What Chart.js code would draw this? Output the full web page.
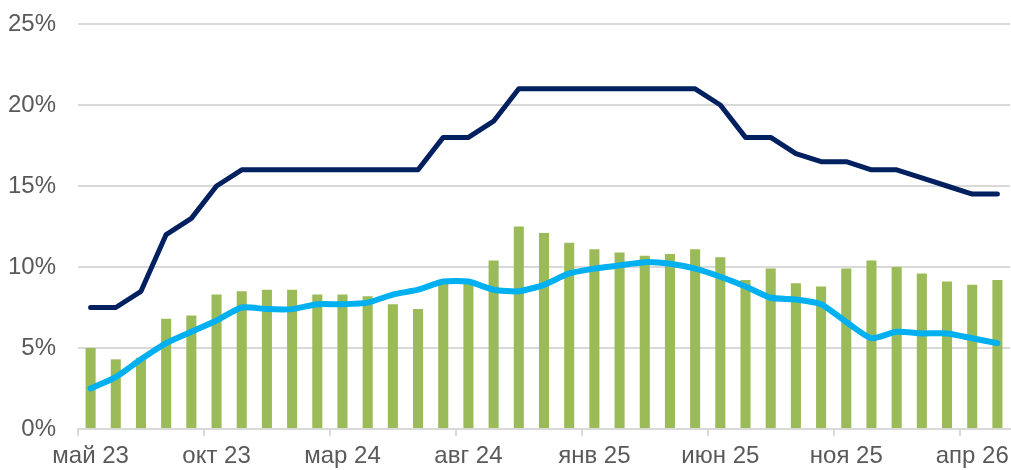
<!DOCTYPE html>
<html>
<head>
<meta charset="utf-8">
<script src="https://cdn.jsdelivr.net/npm/chart.js@4.4.1/dist/chart.umd.min.js"></script>
<style>
  html, body { margin: 0; padding: 0; background: #fff; }
  #wrap { width: 1011px; height: 470px; }
</style>
</head>
<body>
<div id="wrap"><canvas id="chart"></canvas></div>
<script>
// months май 23 .. май 26
const labels = ['май 23','июн 23','июл 23','авг 23','сен 23','окт 23','ноя 23','дек 23',
  'янв 24','фев 24','мар 24','апр 24','май 24','июн 24','июл 24','авг 24','сен 24','окт 24',
  'ноя 24','дек 24','янв 25','фев 25','мар 25','апр 25','май 25','июн 25','июл 25','авг 25',
  'сен 25','окт 25','ноя 25','дек 25','янв 26','фев 26','мар 26','апр 26','май 26'];

// green bars
const barValues = [5.0, 4.3, 4.4, 6.8, 7.0, 8.3, 8.5, 8.6, 8.6, 8.3, 8.3, 8.2, 7.7, 7.4, 9.0, 9.0,
  10.4, 12.5, 12.1, 11.5, 11.1, 10.9, 10.7, 10.8, 11.1, 10.6, 9.2, 9.9, 9.0, 8.8, 9.9, 10.4,
  10.0, 9.6, 9.1, 8.9, 9.2];

// dark blue line
const darkLine = [7.5, 7.5, 8.5, 12, 13, 15, 16, 16, 16, 16, 16, 16, 16, 16, 18, 18, 19, 21,
  21, 21, 21, 21, 21, 21, 21, 20, 18, 18, 17, 16.5, 16.5, 16, 16, 15.5, 15, 14.5, 14.5];

// light blue line
const lightLine = [2.5, 3.2, 4.3, 5.3, 6.0, 6.7, 7.5, 7.4, 7.4, 7.7, 7.7, 7.8, 8.3, 8.6, 9.1, 9.1,
  8.6, 8.5, 8.9, 9.6, 9.9, 10.1, 10.3, 10.2, 9.9, 9.4, 8.8, 8.1, 8.0, 7.7, 6.6, 5.6, 6.0, 5.9,
  5.9, 5.6, 5.3];

const yTicks = [0, 5, 10, 15, 20, 25];

const gridColor = '#d9d9d9';
const textColor = '#595959';

new Chart(document.getElementById('chart'), {
  type: 'bar',
  data: {
    labels: labels,
    datasets: [
      {
        type: 'line',
        data: darkLine,
        borderColor: '#002060',
        borderWidth: 5,
        pointRadius: 0,
        tension: 0,
        borderCapStyle: 'round',
        borderJoinStyle: 'round',
        order: 1
      },
      {
        type: 'line',
        data: lightLine,
        borderColor: '#00b0f0',
        borderWidth: 6,
        pointRadius: 0,
        tension: 0.2,
        borderCapStyle: 'round',
        borderJoinStyle: 'round',
        order: 0
      },
      {
        type: 'bar',
        data: barValues,
        backgroundColor: '#9bbb59',
        categoryPercentage: 1,
        barPercentage: 0.4,
        order: 2
      }
    ]
  },
  options: {
    responsive: true,
    maintainAspectRatio: false,
    animation: false,
    layout: { padding: { top: 24, right: 1, left: 0, bottom: 0 } },
    plugins: { legend: { display: false }, tooltip: { enabled: false } },
    scales: {
      x: {
        offset: true,
        grid: {
          offset: true,
          drawOnChartArea: false,
          tickLength: 7,
          color: ctx => (ctx.index % 5 === 0 ? gridColor : 'transparent'),
          lineWidth: 2
        },
        border: { color: gridColor, width: 2 },
        ticks: {
          autoSkip: false,
          maxRotation: 0,
          color: textColor,
          padding: 6,
          font: { family: 'Liberation Sans', size: 24 },
          callback: function (v, i) { return i % 5 === 0 ? labels[i] : ''; }
        },
        afterFit: s => { s.height = 41; s.paddingLeft = 0; s.paddingRight = 0; }
      },
      y: {
        min: 0,
        max: 25,
        afterBuildTicks: s => { s.ticks = yTicks.map(v => ({ value: v })); },
        grid: { color: gridColor, lineWidth: 2, drawTicks: false },
        border: { display: false },
        ticks: {
          color: textColor,
          padding: 22,
          font: { family: 'Liberation Sans', size: 24 },
          callback: v => v + '%'
        },
        afterFit: s => { s.width = 78; s.paddingTop = 0; s.paddingBottom = 0; }
      }
    }
  }
});
</script>
</body>
</html>
